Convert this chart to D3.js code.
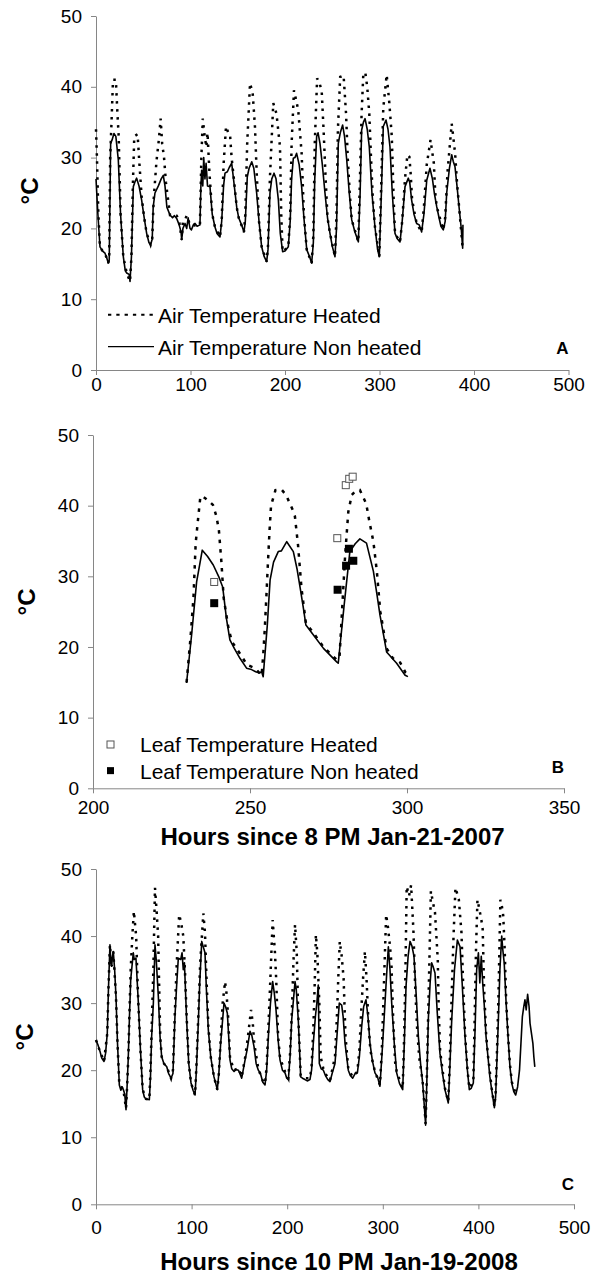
<!DOCTYPE html>
<html>
<head>
<meta charset="utf-8">
<script src="https://cdn.jsdelivr.net/npm/d3@7"></script>
<style>
  body { margin: 0; background: #fff; }
  svg { display: block; font-family: "Liberation Sans", Arial, sans-serif; }
  .axis path, .axis line { stroke: #868686; stroke-width: 1; }
  .axis text { fill: #000; font-size: 19px; font-family: "Liberation Sans", Arial, sans-serif; }
</style>
</head>
<body>
<svg id="chart" width="602" height="1274"></svg>
<script>
const svg = d3.select("#chart");

// tick labels
const tempTicks = [0, 10, 20, 30, 40, 50];
const hourTicksAC = [0, 100, 200, 300, 400, 500];
const hourTicksB = [200, 250, 300, 350];

// Panel A : air temperature, hours since 8 PM Jan-21-2007
const airNonHeatedA = [
  [0,27],[2,22],[4.2,17.4],[7,16.8],[9.5,16.5],[11,16],[13,15.1],[14,15.5],[15.5,32],[17,32.5],[19,33.4],[21,33],[23.6,29.7],
  [26,22],[28.9,16],[31,14],[32.5,13.7],[35,13.5],[36,12.5],[37.5,16],[39.5,25.9],[41,26.5],[43,27.1],[45.5,26],[48.3,24],
  [51,21.5],[53.6,19.3],[56,18],[57.8,17.7],[59.5,18.5],[60.5,23],[62.4,25],[66,26],[69,27],[71.2,27.5],[73,26],[75,23],
  [78.3,21.9],[81,21.5],[83,21.8],[85.4,21.4],[88,20.5],[90,19.5],[90.7,18.4],[92,20],[94.2,20.7],[96,20],[97.5,21.5],
  [99.5,20],[101,19.8],[103,20.5],[104.8,20.7],[107,20.3],[110,20.5],[111,26],[111.8,28.2],[113,26],[114,30],[115.3,27],
  [116.5,29.2],[118,26],[120.6,25.9],[123,22],[125.9,20.2],[128,19.3],[131.2,18.8],[133,21],[135,26],[136.5,27.8],[139,28],
  [141,28.6],[143.6,29.2],[145.5,27],[148.9,23],[151,21.5],[154,20.5],[156.6,19.5],[158,21],[160.1,27.3],[162,28.5],
  [164.8,29.4],[167,28.5],[170,25],[172.5,21],[175.3,17.4],[178,16],[180.6,15.3],[182,17],[184.1,25],[186,27],[188.4,27.8],
  [190.5,27],[193,24],[195,19.3],[197.5,16.7],[200,16.8],[203.5,17.4],[205.5,21],[207,27],[208.8,29.9],[210.5,30],
  [212.3,30.6],[215,29],[217.6,25.9],[220,21.5],[223,17],[226,16],[228.2,15.1],[230,18],[231.5,27],[233.5,33],[235,33.5],
  [237,32],[239.5,29],[242.3,25],[245,21.5],[247.6,19.3],[250,17.5],[252.9,16],[254.5,20],[256.4,32],[258.5,33.5],[261,34.6],
  [263,33],[265.3,29.7],[268,25],[270.6,21.2],[274,19.5],[277.6,18.1],[279.5,25],[281.1,33.9],[283,35],[284.7,35.5],[287,34],
  [289.2,31.5],[292,25],[295.2,20.2],[298,17],[299.8,16],[302,25],[304,34.4],[306.9,35.3],[309,34],[311.1,31.5],[313.5,25],
  [316.4,19.3],[319,18.5],[321.7,18.1],[324,21],[327,25.9],[330.5,27.1],[332,26.5],[334,24],[336.5,22],[339.3,20.7],
  [342,20.5],[344.6,19.5],[347,22],[350,26.8],[353.4,28.5],[356,27],[358,25],[360.5,23.1],[363,21.5],[365,20.3],[367.5,19.8],
  [369.5,21],[371.1,25],[374,28.5],[376.4,30.4],[378,29.5],[379.9,28.7],[382,26],[384.5,22.6],[386.5,20],[388,17.2],[388.3,20.5]
];
const airHeatedA = [
  [0,34],[1,30],[2.5,22],[4.2,17.4],[7,16.8],[9.5,16.5],[13,15.1],[14,16],[15,30],[16.5,35.3],[18,41],[21,41],[22.7,36.2],
  [24,33],[26,22],[28.9,16],[32.5,13.7],[36,12.5],[37.5,16],[39,26],[40.5,33],[44,33.3],[46,29],[48.3,24.5],[51,21.5],
  [53.6,19.3],[57.8,17.7],[59.5,18.5],[61,24],[64,29.5],[66.5,32.5],[68.4,35.5],[70,32],[72,30],[74,26.5],[78.3,21.9],
  [81,22],[85.4,21.8],[88,21],[90.7,18.4],[92,21],[94.2,21.2],[96,21.8],[99.5,20.5],[103,20.5],[107,20.3],[110,20.5],
  [111.5,30],[113,35.5],[115,33],[116.8,31.5],[118,33.5],[120,28],[123,22],[125.9,20.2],[131.2,18.8],[133,21],[135,29],
  [137.6,34.4],[140,33.5],[141.8,33.3],[143.5,30],[145.5,27.5],[148.9,23],[151,21.5],[156.6,19.5],[158,22],[160,32],
  [163,40.5],[165.8,39.1],[168.2,34.4],[170,28],[172.5,21],[175.3,17.4],[180.6,15.3],[182,17.5],[184,27],[187.6,37.7],
  [191,36.2],[194.7,31.5],[196,22],[197.5,16.7],[203.5,17.4],[205.5,22],[207,32],[209.5,39.5],[212,38],[214,36.7],
  [217.6,30.6],[220,22],[223,17],[228.2,15.1],[230,19],[231.5,32],[234,41.2],[236.5,40.5],[238.8,39.5],[241,33.4],[243,27],
  [245,21.5],[247.6,19.3],[252.9,16],[254.5,22],[256,34],[258.4,41.4],[262,41.6],[264.6,36.2],[266.5,29.7],[268.5,25],
  [270.6,21.2],[277.6,18.1],[279.5,28],[281,36],[282.9,41.9],[285,42],[287,40],[289.2,36.2],[291,30],[293,24],[295.2,20.2],
  [299.8,16],[302,27],[304,37],[307.6,41.7],[310.4,37.7],[313,33],[315,24],[316.4,19.3],[321.7,18.1],[324,21],[327,27],
  [329.5,30.4],[331.6,30.1],[333,27.7],[334.5,24],[339.3,20.7],[344.6,19.5],[347,23],[350,29],[354,32.5],[357.5,29.2],
  [359,25],[360.5,23.1],[367.5,19.8],[369.5,21.5],[372,28],[376.4,34.8],[378,33],[380,30.6],[382,26.5],[384.5,22.6],[388,17.2]
];

// Panel B : air and leaf temperature, hours 230-300
const airNonHeatedB = [
  [229.8,14.9],[231.4,21.7],[233,29.2],[234.8,33.7],[236.5,32.8],[238.3,31.6],[240,30],[241.3,28.5],[242.5,24],[243.6,21],
  [245,19.8],[246.8,18.4],[248.9,17],[250.5,16.8],[251.8,16.5],[253,16.3],[253.7,16.5],[254.2,15.8],[255.5,23],[256.4,29.5],
  [257.5,32],[259,33.5],[260,33.6],[261.7,34.9],[263.8,33.5],[265,31],[266,28.3],[267,25.5],[267.8,23.1],[270.2,21.7],
  [273.4,19.8],[277.6,17.9],[278.1,17.7],[280,26],[281.8,33.5],[283.5,34.6],[285,35.3],[287.1,34.7],[289.3,30.7],
  [290.4,27.5],[291.4,24.5],[293.5,19.3],[296.7,17.7],[299.4,16],[300.3,15.8]
];
const airHeatedB = [
  [229.8,15],[231,21],[232,27],[232.7,34.7],[233.5,38.3],[234.2,41.3],[235,41.3],[236.5,40.8],[238.2,40.1],[239.3,38.5],
  [240.1,36.5],[240.9,32],[241.6,27],[243.2,22.5],[244.3,20.7],[246.9,19],[249,17.5],[251.6,17],[253.7,16],[254.2,18.8],
  [254.7,22.5],[255.2,27],[255.7,31.8],[256.2,36.3],[256.7,40],[258.1,42.2],[260,42.3],[261.5,41.5],[263.6,39.4],
  [264.3,38.5],[265.3,34.4],[266.4,28.3],[267.8,23.4],[270.2,22],[273.4,20],[277.6,18.2],[278.5,18.5],[279.3,25],
  [280.3,33],[281.3,39.1],[282.4,41.5],[283.5,42],[285,42.2],[287,40.3],[288,37.8],[289.3,34.9],[290.4,30.7],[291.5,25],
  [293.5,19.8],[295.5,18.4],[297.8,17.8],[299.5,16.4],[301,15.9]
];
const leafHeatedB = [[238.6,29.2],[277.8,35.4],[280.5,42.9],[281.6,43.8],[282.7,44.1]];
const leafNonHeatedB = [[238.6,26.2],[277.9,28.1],[280.6,31.5],[281.5,33.9],[282.9,32.2]];

// Panel C : air temperature, hours since 10 PM Jan-19-2008
const airNonHeatedC = [
  [0,24.5],[2,23.8],[4.2,22.8],[6,21.8],[8.4,21.3],[10,22.5],[11.8,25.5],[13,32],[14.6,38.7],[15.5,36],[16.4,35.5],
  [17.2,37],[18.1,37.7],[19.5,35],[20.9,31],[22.5,24],[24.4,17.8],[26,17],[27.5,17.5],[28.6,17.1],[30,16.5],[31.4,14.1],
  [32.5,17.5],[33.8,22],[35,28],[36.3,33.5],[39,37.5],[40,36.5],[41.8,36.7],[44.3,30],[46.5,23],[48.8,17.1],[50.5,16],
  [52.3,15.7],[55.8,15.6],[57,19],[58.2,25],[60,30],[61.7,38.7],[63,36.5],[65.2,31],[67,25],[68.7,22],[71,21],[74,20.5],
  [76,19.5],[78.5,18.8],[80.5,19.5],[82.6,28],[84.5,33],[86.1,36.7],[88.6,36.5],[90,37.5],[91.3,35],[92.5,36],[94.8,27.5],
  [97,21],[99.4,18.1],[101.5,17],[103.6,16.3],[105,20],[107,27],[108.5,33],[110.6,39.2],[112,38.5],[114,37.5],[115.5,32],
  [117.5,26],[120,22],[123.4,19],[126.9,17.1],[128.5,19.5],[130.4,24],[133.9,30],[135.5,29.5],[137.4,28.5],[140.2,21.5],
  [142,20.2],[144.4,19.8],[146.5,20.1],[148.9,20],[150.5,19.5],[152.4,18.8],[155.9,21.5],[158,23],[161.1,25.8],[163,25.2],
  [165.3,23.5],[167.5,21],[169.8,20],[172,19.5],[174.5,18.2],[176.8,17.8],[178.5,20],[180.3,25],[182.5,30],[184.8,33.2],
  [186.5,31.5],[188.3,29],[190.5,24.5],[192.5,21.5],[195,20],[197.7,19.6],[199.5,18.8],[201.2,18.6],[203,22],[204.7,27.5],
  [208.2,33.2],[209.5,32],[211.6,27.5],[214.1,19],[216,18.8],[218.6,18.6],[221,18.4],[223.8,18.6],[225.5,20],[227.3,24],
  [229.5,28],[231,30],[232.5,32.7],[233.6,21],[235.5,20.2],[237.8,20],[240,19.2],[242.5,18.6],[244.8,18.3],[247,19.5],
  [250,21],[252.5,26],[254.5,30],[257,29.7],[258.5,28],[260.5,24],[263.9,20],[266,19.2],[268.5,18.8],[271,19.5],[273.4,19.6],
  [275.5,22],[277.9,26.5],[280,29.5],[282.4,30.5],[284.5,28],[286.6,24],[289,21.5],[291.8,19.6],[294.5,19],[297,17.6],
  [299,22],[301.3,27.5],[303.5,33],[305.8,38.4],[307.5,35],[309.3,30],[312,24],[314.5,19.6],[317.5,18],[320.8,17.1],
  [322.5,24],[324.3,32.5],[326.5,37],[328.5,39.2],[330.5,38.5],[332.6,37],[335,31],[337.2,25],[339.5,21],[341.7,18.1],
  [343.5,14.5],[344.8,11.8],[346,18],[347.6,27.5],[349.5,33],[351.1,36],[352.5,35.5],[354.6,34.5],[357,28.5],[359.8,22.5],
  [362.5,19.5],[365,17.1],[368.5,15.1],[370,20],[372.1,27.5],[375,35],[378,39.4],[380.8,38.4],[383,33],[386,25],[388.5,20],
  [390.5,17.1],[392.5,17.3],[394.7,18.1],[396.5,26],[398.2,35],[400,37.5],[401.5,33],[403,37],[404.5,33],[406,30],[408,25],
  [410,22],[412,19],[414,17],[416.7,14.4],[418,16],[419.5,22],[421,28],[422.5,35],[424.4,40],[425.5,38],[427,36],[429,30],
  [431,25],[433,20.5],[435,18],[437,16.8],[439,16.3],[441,17.5],[443,20],[444.5,24],[446,28],[447.5,29.5],[448.7,30.5],
  [450,29],[451.5,31.3],[453,29.5],[454,27],[455.5,25.5],[457,24],[458,22],[459,20.5]
];
const airHeatedC = [
  [0,24.5],[4.2,22.8],[8.4,21.3],[11.8,25.5],[13,32],[14.6,38.7],[16.4,35.5],[18.1,37.7],[20.9,31],[22.5,24],[24.4,17.8],
  [28.6,17.1],[31.4,14.3],[32.5,17.5],[33.8,22],[35,28.5],[36.3,35],[38,40],[39.6,43.7],[41,41.5],[42,40],[43.5,33],
  [44.3,30],[46.5,23],[48.8,17.1],[52.3,15.7],[55.8,15.6],[57,20],[58.2,26],[60,35],[61.7,47.2],[63.5,43.5],[65,40],[66,33],
  [67.2,25],[68.7,22],[71,21],[74,20.5],[78.5,18.8],[80.5,20],[82.6,29],[84.5,36],[87,43.2],[89,42],[91.3,40],[93,35],
  [94.8,28],[97,21],[99.4,18.1],[103.6,16.3],[105,20.5],[107,28],[109,36],[112.3,43.4],[114,40.5],[115.5,34],[117.5,26.5],
  [120,22],[123.4,19],[126.9,17.1],[128.5,19.5],[130.4,24.5],[132.5,30],[135,33.2],[136.5,31.5],[138,28.5],[140.2,21.8],
  [144.4,20],[148.9,20.3],[152.4,19],[155.9,21.8],[158.5,24.5],[162.2,29],[164,27],[165.5,24],[169.8,20.2],[174.5,18.4],
  [176.8,18],[178.5,20.5],[180.5,27],[182.5,34],[184.8,42.4],[187.2,37.5],[188.5,33.5],[190.5,25],[192.5,21.8],[197.7,19.8],
  [201.2,18.8],[203,22.5],[205,29],[206.5,36],[208.2,41.7],[210,37.5],[211.6,28],[214.1,19.2],[218.6,18.8],[223.8,18.8],
  [225.5,20.5],[227.3,26],[228.8,33],[230,40.2],[231.5,37.5],[233.6,30],[235,22],[237.8,20.2],[242.5,18.8],[244.8,18.5],
  [247,20],[250,22],[252,28],[253.5,34],[255,39.2],[257,37],[259,33.7],[261,25],[263.9,20.2],[268.5,19],[273.4,19.8],
  [275.5,23],[277.5,29],[279.5,34],[281.3,37.7],[283,33.6],[285,27],[287,23],[289,21.5],[291.8,19.8],[297,17.8],[299,23],
  [301,32],[303.5,43.2],[305.5,41.2],[307.5,38.5],[309,36],[311,27],[313,21],[314.5,19.8],[320.8,17.3],[322,23],[323.5,33],
  [325,47.4],[327.5,46],[329.6,47.6],[332,40.9],[334,32],[336,26],[338,22],[341.7,18.3],[343.5,14.8],[344.8,12],[346,18.5],
  [347.6,29],[349,38],[350.3,46.7],[352.5,45],[354.6,43.5],[357.5,36.5],[358.5,29],[360,22.8],[365,17.3],[368.5,15.3],
  [370,21],[372,31],[374,40],[376,47.2],[379.5,45.5],[382.3,40.5],[384,33],[386,25.5],[388.5,20.2],[390.5,17.3],[394.7,18.3],
  [396,27],[397.5,38],[399,45.4],[401,44],[403,42.5],[404.5,41],[406,32],[408,25.5],[410,22.2],[414,17.2],[416.7,14.6],
  [418,16.5],[419.5,23],[421,31],[423,45.4],[424.5,44.5],[426,43],[427.5,38],[429,30.5],[431,25.3],[433,20.8],[435,18.2],
  [439,16.5]
];

// legend / label texts
const legendA = ["Air Temperature Heated", "Air Temperature Non heated"];
const legendB = ["Leaf Temperature Heated", "Leaf Temperature Non heated"];
const titleB = "Hours since 8 PM Jan-21-2007";
const titleC = "Hours since 10 PM Jan-19-2008";

// panel geometry (pixels)
const panels = [
  { id: "A", xDomain: [0, 500], xTicks: hourTicksAC, left: 96, right: 568.5, top: 16, bottom: 370,
    heated: airHeatedA, nonHeated: airNonHeatedA, dash: "2.5,5.5", labelY: 191, labelX: 38, xPad: 3 },
  { id: "B", xDomain: [200, 350], xTicks: hourTicksB, left: 93, right: 564, top: 435, bottom: 788.3,
    heated: airHeatedB, nonHeated: airNonHeatedB, dash: "3.5,6", labelY: 602, labelX: 35, xPad: 7,
    title: titleB, titleY: 845 },
  { id: "C", xDomain: [0, 500], xTicks: hourTicksAC, left: 96, right: 574, top: 869, bottom: 1204.3,
    heated: airHeatedC, nonHeated: airNonHeatedC, dash: "2.5,5.5", labelY: 1037, labelX: 33, xPad: 11,
    title: titleC, titleY: 1270 }
];

panels.forEach(drawPanel);

function drawPanel(p) {
  const x = d3.scaleLinear().domain(p.xDomain).range([p.left, p.right]);
  const y = d3.scaleLinear().domain([0, 50]).range([p.bottom, p.top]);
  const g = svg.append("g").attr("class", "panel-" + p.id);

  // 軸
  g.append("g")
    .attr("class", "axis")
    .attr("transform", `translate(${p.left},0)`)
    .call(d3.axisLeft(y).tickValues(tempTicks).tickSize(5).tickPadding(9).tickSizeOuter(0));

  g.append("g")
    .attr("class", "axis")
    .attr("transform", `translate(0,${p.bottom})`)
    .call(d3.axisBottom(x).tickValues(p.xTicks).tickSize(5).tickPadding(p.xPad).tickSizeOuter(0));

  // 線（非加温＝実線、加温＝点線）
  const line = d3.line().x(d => x(d[0])).y(d => y(d[1]));

  g.append("path")
    .datum(p.nonHeated)
    .attr("d", line)
    .attr("fill", "none")
    .attr("stroke", "#000")
    .attr("stroke-width", 1.6)
    .attr("stroke-linejoin", "round");

  g.append("path")
    .datum(p.heated)
    .attr("d", line)
    .attr("fill", "none")
    .attr("stroke", "#000")
    .attr("stroke-width", 2.5)
    .attr("stroke-dasharray", p.dash);

  // y label
  g.append("text")
    .attr("transform", `translate(${p.labelX},${p.labelY}) rotate(-90)`)
    .attr("text-anchor", "middle")
    .style("font-size", "24px")
    .style("font-weight", "bold")
    .text("°C");

  // panel letter
  g.append("text")
    .attr("x", p.right)
    .attr("y", y(2.2))
    .attr("text-anchor", "end")
    .style("font-size", "17px")
    .style("font-weight", "bold")
    .text(p.id);

  if (p.title) {
    g.append("text")
      .attr("x", (p.left + p.right) / 2 + 4)
      .attr("y", p.titleY)
      .attr("text-anchor", "middle")
      .style("font-size", "24px")
      .style("font-weight", "bold")
      .text(p.title);
  }

  if (p.id === "A") {
    legendA.forEach((t, i) => {
      const ly = y(7.8 - i * 4.5);
      g.append("line")
        .attr("x1", 108).attr("x2", 154)
        .attr("y1", ly).attr("y2", ly)
        .attr("stroke", "#000")
        .attr("stroke-width", i === 0 ? 2 : 1.4)
        .attr("stroke-dasharray", i === 0 ? "3.3,5" : null);
      g.append("text")
        .attr("x", 158)
        .attr("y", ly + 8)
        .style("font-size", "21px")
        .text(t);
    });
  }

  if (p.id === "B") {
    // 葉温のマーカー
    g.append("g").selectAll("rect")
      .data(leafHeatedB)
      .enter().append("rect")
      .attr("x", d => x(d[0]) - 3.5)
      .attr("y", d => y(d[1]) - 3.5)
      .attr("width", 7).attr("height", 7)
      .attr("fill", "#fff")
      .attr("stroke", "#555")
      .attr("stroke-width", 1);

    g.append("g").selectAll("rect")
      .data(leafNonHeatedB)
      .enter().append("rect")
      .attr("x", d => x(d[0]) - 4)
      .attr("y", d => y(d[1]) - 4)
      .attr("width", 8).attr("height", 8)
      .attr("fill", "#000");

    legendB.forEach((t, i) => {
      const cy = y(6.2 - i * 3.7);
      g.append("rect")
        .attr("x", 107).attr("y", cy - 3.5)
        .attr("width", 7).attr("height", 7)
        .attr("fill", i === 0 ? "#fff" : "#000")
        .attr("stroke", i === 0 ? "#555" : "none");
      g.append("text")
        .attr("x", 140)
        .attr("y", cy + 8)
        .style("font-size", "21px")
        .text(t);
    });
  }
}
</script>
</body>
</html>
